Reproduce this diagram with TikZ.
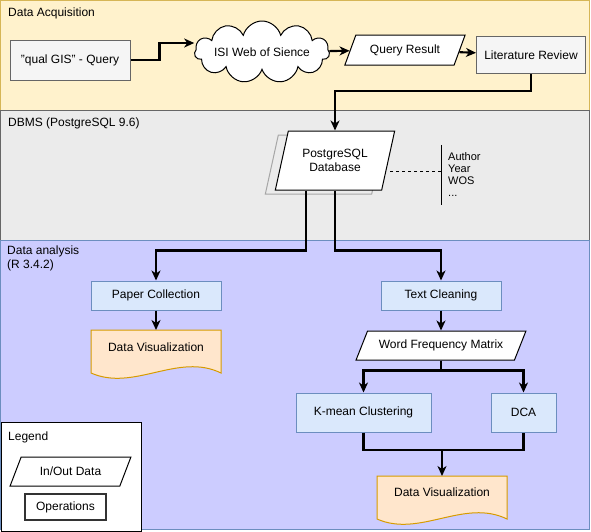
\documentclass[tikz,border=0pt]{standalone}
\usepackage{fontspec}
\setmainfont{Liberation Sans}
\usetikzlibrary{arrows.meta}
\usetikzlibrary{shapes.geometric,shapes.symbols,shadows}
\usetikzlibrary{calc,backgrounds}
\definecolor{acqfill}{HTML}{FFF2CC}
\definecolor{acqline}{HTML}{D6B656}
\definecolor{dbmsfill}{HTML}{EBEBEB}
\definecolor{dbmsline}{HTML}{666666}
\definecolor{anafill}{HTML}{CCCCFF}
\definecolor{analine}{HTML}{6C8EBF}
\definecolor{opfill}{HTML}{DAE8FC}
\definecolor{grayfill}{HTML}{F5F5F5}
\definecolor{docfill}{HTML}{FFE6CC}
\definecolor{docline}{HTML}{D79B00}

\begin{document}
\begin{tikzpicture}[x=1pt, y=-1pt, font=\fontsize{12}{14}\selectfont,
  conn/.style={black, line width=2.1pt, ->, >={Stealth[length=10pt, width=9pt, inset=3pt]}},
  link/.style={black, line width=2.1pt},
  grayop/.style={draw=dbmsline, fill=grayfill, line width=1pt},
  opbox/.style={draw=analine, fill=opfill, line width=1pt, minimum height=29pt},
  io/.style={trapezium, trapezium stretches=true, draw, fill=white, line width=1pt, inner sep=0pt},
  docshape/.style={draw=docline, fill=docfill, line width=1pt},
  lanelbl/.style={anchor=west, align=left, inner sep=0pt}
]
\useasboundingbox (0,0) rectangle (591,531);
\node[grayop, minimum width=120pt, minimum height=40pt] (query) at (70,60) {"qual GIS" - Query};
\node[cloud, cloud puffs=11, cloud ignores aspect, draw, fill=white, line width=1pt, minimum width=135pt, minimum height=62pt, inner sep=0pt] (isi) at (262,52) {ISI Web of Sience};
\node[io, trapezium left angle=55, trapezium right angle=125, minimum width=121pt, minimum height=30pt] (result) at (405,50) {Query Result};
\node[grayop, minimum width=109pt, minimum height=37pt] (review) at (531,55) {Literature Review};
\node[io, trapezium left angle=68, trapezium right angle=112, minimum width=120pt, minimum height=59pt, align=center,
  copy shadow={shadow xshift=-10pt, shadow yshift=-4pt, draw=gray!70, fill=dbmsfill}] (db) at (335,160.5) {PostgreSQL\\Database};
\node[anchor=west, align=left, font=\fontsize{11}{12}\selectfont, minimum height=60pt, inner xsep=7pt] (attr) at (441,175) {Author\\Year\\WOS\\...};
\node[opbox, minimum width=130pt] (papers) at (156,295.5) {Paper Collection};
\node (vis1) at (156,347) {Data Visualization};
\node[opbox, minimum width=120pt] (clean) at (441,295.5) {Text Cleaning};
\node[io, trapezium left angle=49, trapezium right angle=131, minimum width=170pt, minimum height=29pt] (wfm) at (441,345.5) {Word Frequency Matrix};
\node[opbox, minimum width=135pt, minimum height=39pt] (kmean) at (363.5,412.5) {K-mean Clustering};
\node[opbox, minimum width=65pt, minimum height=39pt] (dca) at (523.5,412.5) {DCA};
\node (vis2) at (442,492) {Data Visualization};
\coordinate (merge) at (442,450);

\node[lanelbl] (acq) at (8,13) {Data Acquisition};
\node[lanelbl] (dbms) at (8,123) {DBMS (PostgreSQL 9.6)};
\node[lanelbl, anchor=north west] (ana) at (7,246) {Data analysis\\(R 3.4.2)};

\node[draw, fill=white, line width=1pt, minimum width=140pt, minimum height=109pt, anchor=north west] (legend) at (0.5,422) {};
\node[lanelbl] (legendlbl) at (8,437) {Legend};
\node[io, trapezium left angle=52, trapezium right angle=128, minimum width=121pt, minimum height=29pt] (lgio) at (70.5,471.5) {In/Out Data};
\node[draw=black!80, line width=1.5pt, minimum width=81pt, minimum height=26pt] (lgop) at (65.5,507) {Operations};

\draw[conn] (query.east) -- ++(29,0) |- ([yshift=9pt]isi.west);
\draw[conn] (isi) -- (result);
\draw[conn] (result) -- (review);
\draw[conn] (review.south) -- ++(0,17) -| (db.north);
\draw[line width=1pt] (attr.north west) -- (attr.south west);
\draw[dashed, line width=0.8pt] ([yshift=4pt]attr.west) -- ([yshift=4pt]attr.west -| db.east);
\draw[conn] ([xshift=-29pt]db.south) -- ++(0,60) -| (papers.north);
\draw[conn] (db.south) -- ++(0,60) -| (clean.north);
\draw[conn] (papers) -- (vis1.north |- 0,330);
\draw[conn] (clean) -- (wfm);
\draw[conn] (wfm.south) -- ++(0,10) -| (kmean.north);
\draw[conn] (wfm.south) -- ++(0,10) -| (dca.north);
\draw[link] (kmean.south) |- (merge) -| (dca.south);
\draw[conn] (merge) -- (vis2.north |- 0,476);

\begin{scope}[on background layer]
\draw[fill=acqfill, draw=acqline, line width=1pt] (0.5,0.5) rectangle (589,110);
\draw[fill=dbmsfill, draw=dbmsline, line width=1pt] (0.5,110) rectangle (589,240);
\draw[fill=anafill, draw=analine, line width=1pt] (0.5,240) rectangle (589,529);
\filldraw[docshape] (91,330) -- (221,330) -- (221,373) .. controls (178,352) and (134,392) .. (91,373) -- cycle;
\filldraw[docshape] (377,476) -- (507,476) -- (507,519) .. controls (464,498) and (420,538) .. (377,519) -- cycle;
\end{scope}
\end{tikzpicture}
\end{document}
